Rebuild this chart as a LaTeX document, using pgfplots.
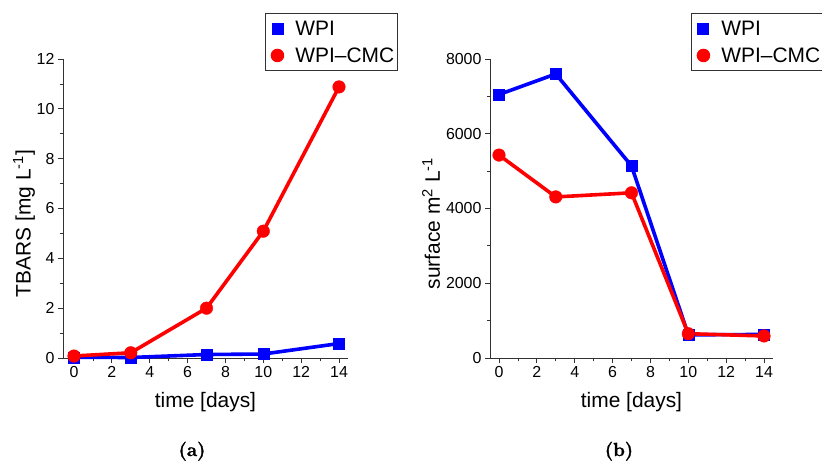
\documentclass[border=0pt]{standalone}
\usepackage{fontspec}
\usepackage{pgfplots}
\pgfplotsset{compat=1.18}
\newfontfamily\arial{Liberation Sans}
\newfontfamily\capfont{Latin Modern Roman}[BoldFeatures={FakeBold=1.6}]
\definecolor{axgray}{RGB}{50,50,50}
\pgfplotsset{
  mystyle/.style={
    scale only axis, height=299bp,
    axis lines=left, axis line style={-, axgray, line width=0.9bp},
    tick align=outside, major tick length=5bp, minor tick length=3bp,
    tick style={axgray, line width=0.8bp},
    minor x tick num=1, minor y tick num=1,
    xtick={0,2,...,14},
    ticklabel style={font=\arial\fontsize{16}{18}\selectfont},
    /pgf/number format/assume math mode=true,
    /pgf/number format/1000 sep={},
    scaled y ticks=false,
    label style={font=\arial\fontsize{21}{24}\selectfont},
    xlabel={time [days]},
    xlabel style={at={(axis description cs:0.5,-0.148)}, anchor=center},
    clip=false,
    legend style={anchor=north west, draw=axgray, line width=0.9bp,
      font=\arial\fontsize{21}{24}\selectfont, inner xsep=3bp, inner ysep=3.5bp,
      row sep=4bp, column sep=9bp,
      nodes={inner sep=0bp, text height=19bp, text depth=4bp}},
    legend cell align=left,
    legend image code/.code={\path[draw=none,fill=none] (0bp,0bp) rectangle (18bp,0.1bp); \path[##1,draw=none] plot coordinates {(9bp,0bp)};},
  },
  lineA/.style={blue, line width=3.6bp, forget plot},
  lineB/.style={red, line width=3.6bp, forget plot},
  markA/.style={blue, only marks, mark=square*, mark size=5.5bp, mark options={fill=blue, draw=blue}},
  markB/.style={red, only marks, mark=*, mark size=6.3bp, mark options={fill=red, draw=red}},
}
\begin{document}
\begin{tikzpicture}
\useasboundingbox (0,0) rectangle (822bp,-461bp);
% panel (a)
\begin{axis}[mystyle, at={(63bp,-358bp)}, anchor=south west,
  width=285bp, xmin=-0.581, xmax=14.475, ymin=0, ymax=12,
  ytick={0,2,...,12},
  ylabel={TBARS [mg L\textsuperscript{-1}]},
  ylabel style={at={(axis description cs:-0.137,0.45)}, anchor=center},
  legend style={at={(rel axis cs:0.7088,1.1538)}},
  legend entries={WPI, WPI–CMC\hspace{7bp}}]
\addplot[lineA] coordinates {(0,0.03) (3,0.02) (7,0.14) (10,0.16) (14,0.58)};
\addplot[markA] coordinates {(0,0.03) (3,0.02) (7,0.14) (10,0.16) (14,0.58)};
\addplot[lineB] coordinates {(0,0.08) (3,0.21) (7,2.0) (10,5.09) (14,10.88)};
\addplot[markB] coordinates {(0,0.08) (3,0.21) (7,2.0) (10,5.09) (14,10.88)};
\end{axis}
% panel (b)
\begin{axis}[mystyle, at={(490bp,-358bp)}, anchor=south west,
  width=283bp, xmin=-0.475, xmax=14.475, ymin=0, ymax=8000,
  ytick={0,2000,...,8000},
  ylabel={surface m\textsuperscript{2} L\textsuperscript{-1}},
  ylabel style={at={(axis description cs:-0.208,0.45)}, anchor=center},
  legend style={at={(rel axis cs:0.7102,1.1538)}},
  legend entries={WPI, WPI–CMC\hspace{7bp}}]
\addplot[lineA] coordinates {(0,7050) (3,7600) (7,5140) (10,620) (14,630)};
\addplot[markA] coordinates {(0,7050) (3,7600) (7,5140) (10,620) (14,630)};
\addplot[lineB] coordinates {(0,5430) (3,4310) (7,4420) (10,650) (14,590)};
\addplot[markB] coordinates {(0,5430) (3,4310) (7,4420) (10,650) (14,590)};
\end{axis}
\node[font=\capfont\fontsize{19}{22}\selectfont\bfseries, anchor=base] at (192bp,-456bp) {(a)};
\node[font=\capfont\fontsize{19}{22}\selectfont\bfseries, anchor=base] at (619bp,-456bp) {(b)};
\end{tikzpicture}
\end{document}
